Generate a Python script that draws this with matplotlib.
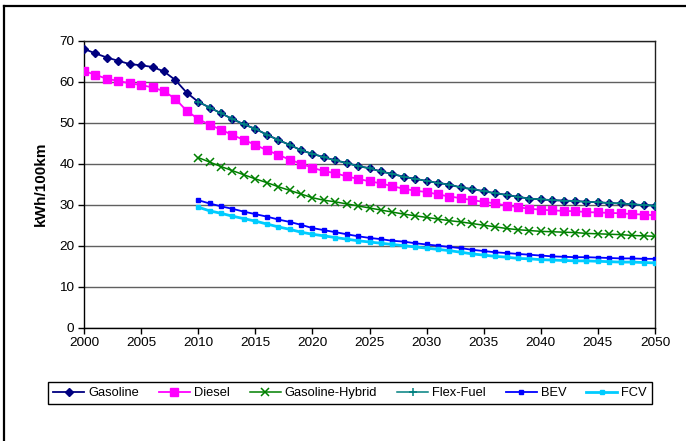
import numpy as np
import matplotlib.pyplot as plt
from matplotlib.lines import Line2D

plt.rcParams["font.family"] = ["Liberation Sans", "DejaVu Sans"]

YEARS_ALL = list(range(2000, 2051))
YEARS_NEW = list(range(2010, 2051))

GASOLINE = [
    68.0, 66.9, 65.9, 65.1, 64.3, 64.0, 63.6, 62.5, 60.4, 57.3,
    55.1, 53.7, 52.3, 50.9, 49.6, 48.5, 47.1, 45.8, 44.6, 43.3,
    42.4, 41.6, 40.8, 40.2, 39.4, 38.9, 38.1, 37.5, 36.8, 36.3,
    35.8, 35.3, 34.9, 34.2, 33.8, 33.3, 32.8, 32.4, 31.9, 31.5,
    31.3, 31.1, 31.0, 30.9, 30.7, 30.6, 30.4, 30.3, 30.1, 29.9,
    29.8,
]
DIESEL = [
    62.6, 61.7, 60.7, 60.2, 59.6, 59.2, 58.6, 57.7, 55.8, 52.9,
    50.9, 49.5, 48.3, 47.0, 45.8, 44.6, 43.3, 42.2, 41.0, 40.0,
    39.0, 38.2, 37.7, 36.9, 36.3, 35.7, 35.2, 34.5, 33.9, 33.4,
    33.1, 32.5, 32.0, 31.6, 31.1, 30.7, 30.3, 29.8, 29.4, 29.0,
    28.8, 28.6, 28.5, 28.4, 28.2, 28.1, 28.0, 27.9, 27.7, 27.6,
    27.4,
]
HYBRID = [
    41.5, 40.4, 39.3, 38.3, 37.3, 36.3, 35.4, 34.4, 33.5, 32.6,
    31.7, 31.1, 30.7, 30.2, 29.7, 29.2, 28.7, 28.2, 27.7, 27.3,
    26.9, 26.5, 26.1, 25.8, 25.4, 25.0, 24.6, 24.2, 23.9, 23.7,
    23.5, 23.4, 23.3, 23.2, 23.0, 22.9, 22.8, 22.7, 22.5, 22.4,
    22.3,
]
FLEX_FUEL = [
    55.1, 53.7, 52.3, 50.9, 49.6, 48.5, 47.1, 45.8, 44.6, 43.3,
    42.4, 41.6, 40.8, 40.2, 39.4, 38.9, 38.1, 37.5, 36.8, 36.3,
    35.8, 35.3, 34.9, 34.2, 33.8, 33.3, 32.8, 32.4, 31.9, 31.5,
    31.3, 31.1, 31.0, 30.9, 30.7, 30.6, 30.4, 30.3, 30.1, 29.9,
    29.8,
]
BEV = [
    31.1, 30.3, 29.6, 29.0, 28.3, 27.7, 27.1, 26.4, 25.8, 25.1,
    24.3, 23.8, 23.3, 22.8, 22.3, 21.9, 21.6, 21.2, 21.0, 20.6,
    20.3, 20.0, 19.7, 19.4, 19.0, 18.7, 18.4, 18.2, 18.0, 17.8,
    17.6, 17.4, 17.3, 17.2, 17.2, 17.1, 17.0, 16.9, 16.9, 16.8,
    16.8,
]
FCV = [
    29.4, 28.5, 27.9, 27.2, 26.6, 26.0, 25.3, 24.6, 24.0, 23.3,
    22.8, 22.4, 22.0, 21.6, 21.2, 20.9, 20.6, 20.3, 20.0, 19.7,
    19.4, 19.1, 18.8, 18.4, 18.0, 17.7, 17.4, 17.2, 16.9, 16.8,
    16.6, 16.5, 16.4, 16.3, 16.3, 16.2, 16.1, 16.0, 16.0, 15.9,
    15.8,
]

W, H = 686, 441
fig = plt.figure(figsize=(W / 100, H / 100), dpi=100)
ax = fig.add_axes([84 / W, 1 - 327.7 / H, 571 / W, 287 / H])

ax.plot(YEARS_ALL, GASOLINE, color="#000080", lw=1.3, marker="D", ms=4.5,
        label="Gasoline", zorder=3)
ax.plot(YEARS_ALL, DIESEL, color="#FF00FF", lw=1.3, marker="s", ms=6,
        label="Diesel", zorder=3)
ax.plot(YEARS_NEW, HYBRID, color="#008000", lw=1.1, marker="x", ms=5.5,
        mew=1.1, label="Gasoline-Hybrid", zorder=3)
ax.plot(YEARS_NEW, FLEX_FUEL, color="#008080", lw=1.1, marker="+", ms=6,
        mew=1.1, label="Flex-Fuel", zorder=4)
ax.plot(YEARS_NEW, BEV, color="#0000FF", lw=1.3, marker="s", ms=2.2,
        label="BEV", zorder=3)
ax.plot(YEARS_NEW, FCV, color="#00CCFF", lw=2.0, marker="s", ms=2.5,
        label="FCV", zorder=3)

ax.set_xlim(2000, 2050)
ax.set_ylim(0, 70)
ax.set_xticks(np.arange(2000, 2051, 5))
ax.set_yticks(np.arange(0, 71, 10))
ax.yaxis.grid(True, color="#606060", lw=1.0)
ax.set_axisbelow(True)
for side in ["left", "bottom"]:
    ax.spines[side].set_color("black")
    ax.spines[side].set_linewidth(1.0)
for side in ["top", "right"]:
    ax.spines[side].set_color("#202020")
    ax.spines[side].set_linewidth(1.0)
ax.tick_params(direction="out", length=4, width=1, labelsize=9.7, pad=3)
ax.set_ylabel("kWh/100km", fontsize=11, fontweight="bold", labelpad=8)

leg = fig.legend(loc="center", ncol=6, mode="expand", fontsize=9.3,
                 bbox_to_anchor=(48 / W, 1 - 413 / H, 604 / W, 40 / H),
                 fancybox=False, edgecolor="black", framealpha=1,
                 handlelength=2.4, handletextpad=0.3, borderaxespad=0,
                 columnspacing=1.0)
leg.get_frame().set_linewidth(1.0)

# outer chart frame (left and top edges visible)
fig.add_artist(Line2D([4 / W, 4 / W], [0, 1 - 6 / H], color="black", lw=1.6,
                      transform=fig.transFigure))
fig.add_artist(Line2D([4 / W, 685 / W], [1 - 6 / H, 1 - 6 / H], color="black",
                      lw=1.6, transform=fig.transFigure))

fig.savefig("out.png", dpi=100)
